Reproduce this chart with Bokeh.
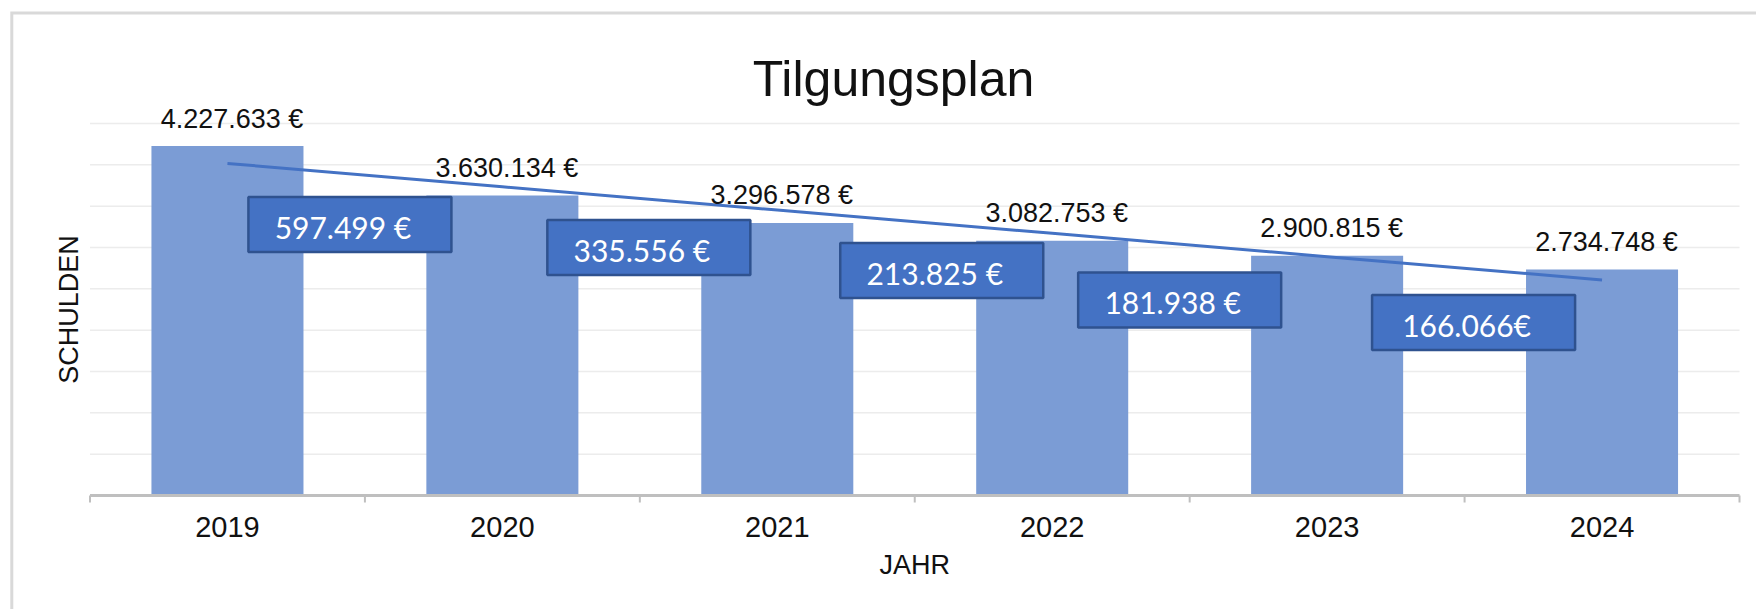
import numpy as np
from bokeh.plotting import figure
from bokeh.models import Range1d
from bokeh.core.properties import value
from bokeh.embed import file_html
from bokeh.resources import INLINE

# ---------------- data ----------------
chart_title = "Tilgungsplan"
years = ["2019", "2020", "2021", "2022", "2023", "2024"]
schulden = [4227633, 3630134, 3296578, 3082753, 2900815, 2734748]
tilgung_labels = ["597.499 €", "335.556 €", "213.825 €", "181.938 €", "166.066€"]
grid_values = [500000, 1000000, 1500000, 2000000, 2500000, 3000000, 3500000, 4000000, 4500000]
x_title = "JAHR"
y_title = "SCHULDEN"

# ---------------- layout (pixels) ----------------
W, H = 1756, 609
FL, FR, FT, FB = 89.5, 1739, 123, 495          # plot area (Excel) in pixels
CAT_PX = (FR - FL) / len(years)
PX_PER_VAL = (FB - FT) / grid_values[-1]


def xd(px):
    """pixel column -> x data units"""
    return (px - FL) / CAT_PX


def yd(py):
    """pixel row -> y data units"""
    return (FB - py) / PX_PER_VAL


# callout boxes: horizontal shift from category boundary (px) and centre row (px)
callout_dx = [-15, 9, 27, -10, 9]
callout_y = [224, 247, 270, 299.5, 322]

BAR_BLUE = "#7b9cd5"
BLUE = "#4472c4"
DARK_BLUE = "#2f528f"
TXT = "#111111"
AXIS_GREY = "#bfbfbf"
FONT = value("Liberation Sans")

n = len(years)
idx = np.arange(n)
x_pos = idx + 0.5
labels_top = [f"{v:,}".replace(",", ".") + " €" for v in schulden]

p = figure(width=W, height=H, x_range=Range1d(xd(0), xd(W)), y_range=Range1d(yd(H), yd(0)),
           output_backend="svg", toolbar_location=None,
           x_axis_location=None, y_axis_location=None, min_border=0)
p.outline_line_color = None
p.background_fill_color = "white"
p.border_fill_color = "white"
p.grid.visible = False

# outer chart border (left and top edges visible)
p.line(x=[xd(11.3), xd(11.3), xd(W + 20)], y=[yd(H + 20), yd(12.5), yd(12.5)],
       line_color="#d9d9d9", line_width=3, line_join="miter")

# horizontal gridlines
p.segment(x0=[0] * len(grid_values), x1=[n] * len(grid_values), y0=grid_values, y1=grid_values,
          line_color="#ececec", line_width=1.5)

# bars
p.vbar(x=x_pos, top=schulden, bottom=0, width=0.553, fill_color=BAR_BLUE, line_color=None)

# category axis: line, boundary ticks, labels, title
p.segment(x0=[0], x1=[n], y0=[0], y1=[0], line_color=AXIS_GREY, line_width=3)
p.segment(x0=list(range(n + 1)), x1=list(range(n + 1)), y0=[0] * (n + 1),
          y1=[-7 / PX_PER_VAL] * (n + 1), line_color=AXIS_GREY, line_width=2)
p.text(x=x_pos, y=[0] * n, text=years, y_offset=31, text_align="center", text_baseline="middle",
       text_font=FONT, text_font_size="29px", text_color=TXT)
p.text(x=[n / 2], y=[0], text=[x_title], y_offset=69, text_align="center", text_baseline="middle",
       text_font=FONT, text_font_size="27px", text_color=TXT)

# value-axis title
p.text(x=[0], y=[grid_values[-1] / 2], text=[y_title], angle=np.pi / 2, x_offset=-21,
       text_align="center", text_baseline="middle",
       text_font=FONT, text_font_size="27px", text_color=TXT)

# linear trend line
coef = np.polyfit(idx, schulden, 1)
trend = np.polyval(coef, idx)
p.line(x=x_pos, y=trend, line_color=BLUE, line_width=3)

# value labels above bars
p.text(x=x_pos, y=schulden, text=labels_top, x_offset=4.5, y_offset=-27.5,
       text_align="center", text_baseline="middle",
       text_font=FONT, text_font_size="27px", text_color=TXT)

# callout boxes with repayment amounts
bx = [(i + 1) + dx / CAT_PX for i, dx in enumerate(callout_dx)]
by = [yd(v) for v in callout_y]
p.rect(x=bx, y=by, width=203, height=55, width_units="screen", height_units="screen",
       fill_color=BLUE, line_color=DARK_BLUE, line_width=2.5)
p.text(x=bx, y=by, text=tilgung_labels, x_offset=-7, y_offset=2,
       text_align="center", text_baseline="middle",
       text_font=value("Lato"), text_font_size="30px", text_color="white")

# chart title
p.text(x=[xd(893)], y=[yd(78)], text=[chart_title], text_align="center", text_baseline="alphabetic",
       text_font=FONT, text_font_size="50px", text_color=TXT)

open("out.html", "w").write(file_html(p, INLINE))
